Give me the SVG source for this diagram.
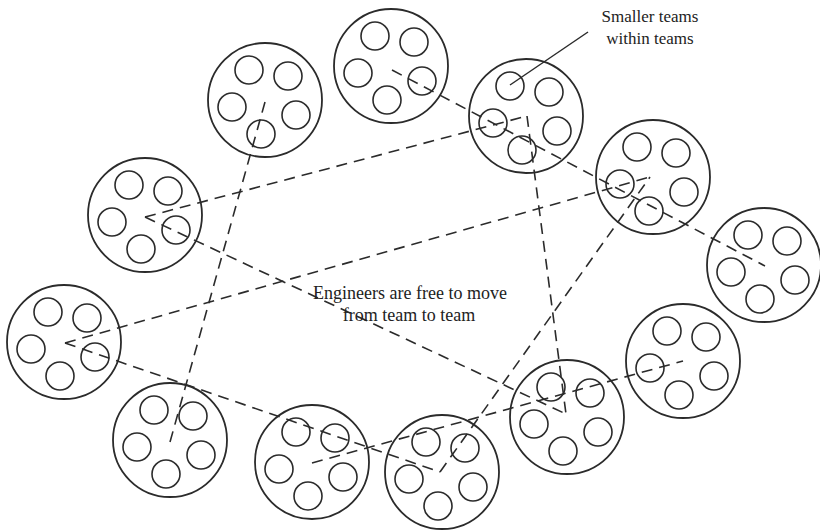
<svg xmlns="http://www.w3.org/2000/svg" width="820" height="530" viewBox="0 0 820 530">
<style>
.big{fill:none;stroke:#2b2b2b;stroke-width:1.8}
.sm{fill:none;stroke:#2b2b2b;stroke-width:1.6}
.dash{fill:none;stroke:#2b2b2b;stroke-width:1.6;stroke-dasharray:11 7}
.lead{fill:none;stroke:#2b2b2b;stroke-width:1.5}
.txt{font-family:"Liberation Serif","Times New Roman",serif;fill:#222;text-anchor:middle}
</style>
<rect width="820" height="530" fill="#ffffff"/>
<defs>
<g id="team">
<circle class="big" cx="0" cy="0" r="57"/>
<circle class="sm" cx="-16" cy="-30" r="14"/>
<circle class="sm" cx="23" cy="-24" r="14"/>
<circle class="sm" cx="-33" cy="7" r="14"/>
<circle class="sm" cx="31" cy="15" r="14"/>
<circle class="sm" cx="-4" cy="34" r="14"/>
</g>
</defs>
<g id="team-1" transform="translate(265,100)"><use href="#team"/></g>
<g id="team-2" transform="translate(391,66)"><use href="#team"/></g>
<g id="team-3" transform="translate(526,116)"><use href="#team"/></g>
<g id="team-4" transform="translate(145,215)"><use href="#team"/></g>
<g id="team-5" transform="translate(653,177)"><use href="#team"/></g>
<g id="team-6" transform="translate(764,265)"><use href="#team"/></g>
<g id="team-7" transform="translate(64,342)"><use href="#team"/></g>
<g id="team-8" transform="translate(170,440)"><use href="#team"/></g>
<g id="team-9" transform="translate(312,462)"><use href="#team"/></g>
<g id="team-10" transform="translate(442,472)"><use href="#team"/></g>
<g id="team-11" transform="translate(567,417)"><use href="#team"/></g>
<g id="team-12" transform="translate(683,361)"><use href="#team"/></g>
<g id="connectors">
<line class="dash" x1="265" y1="102" x2="170" y2="442"/>
<line class="dash" x1="392" y1="70" x2="765" y2="266"/>
<line class="dash" x1="145" y1="217" x2="527" y2="116"/>
<line class="dash" x1="527" y1="116" x2="566" y2="414"/>
<line class="dash" x1="145" y1="217" x2="566" y2="414"/>
<line class="dash" x1="65" y1="343" x2="650" y2="177"/>
<line class="dash" x1="65" y1="343" x2="440" y2="472"/>
<line class="dash" x1="440" y1="472" x2="650" y2="177"/>
<line class="dash" x1="312" y1="463" x2="683" y2="361"/>
</g>
<g id="label">
<line class="lead" x1="588" y1="32" x2="510" y2="85"/>
<text class="txt" x="650" y="22" font-size="17">Smaller teams</text>
<text class="txt" x="650" y="44" font-size="17">within teams</text>
</g>
<g id="caption">
<text class="txt" x="410" y="299" font-size="18">Engineers are free to move</text>
<text class="txt" x="409" y="321" font-size="18">from team to team</text>
</g>
</svg>
